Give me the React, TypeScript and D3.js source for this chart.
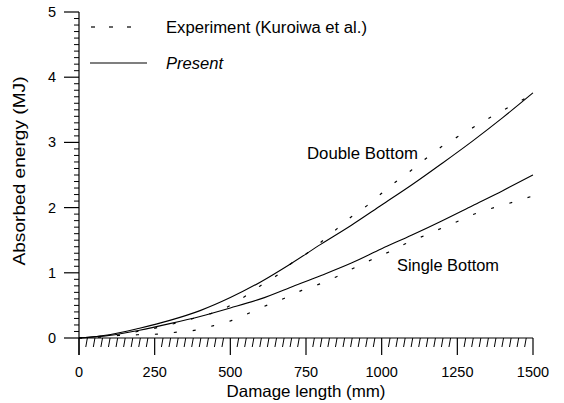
import React from "react";
import * as d3 from "d3";

const width = 564;
const height = 403;
const margin = { top: 12, right: 30, bottom: 65, left: 79 };

// damage length (mm) and absorbed energy (MJ)
const doublePresentX = [0, 100, 200, 300, 400, 500, 600, 700, 800, 900, 1000, 1100, 1200, 1300, 1400, 1500];
const doublePresentY = [0, 0.05, 0.15, 0.27, 0.42, 0.62, 0.86, 1.14, 1.44, 1.73, 2.04, 2.35, 2.68, 3.02, 3.38, 3.76];

const singlePresentX = [0, 100, 200, 300, 400, 500, 600, 700, 800, 900, 1000, 1100, 1200, 1300, 1400, 1500];
const singlePresentY = [0, 0.04, 0.12, 0.22, 0.33, 0.46, 0.6, 0.78, 0.96, 1.15, 1.37, 1.58, 1.8, 2.03, 2.26, 2.5];

const doubleExpX = [0, 130, 193, 260, 330, 400, 470, 549, 602, 651, 703, 760, 802, 851, 900, 954, 1000, 1048, 1100, 1151, 1200, 1256, 1310, 1361, 1420, 1476, 1500];
const doubleExpY = [0, 0.04, 0.1, 0.16, 0.24, 0.33, 0.43, 0.64, 0.81, 0.95, 1.15, 1.32, 1.48, 1.67, 1.86, 2.04, 2.22, 2.4, 2.58, 2.77, 2.94, 3.1, 3.25, 3.39, 3.54, 3.68, 3.74];

const singleExpX = [0, 133, 193, 259, 324, 385, 445, 505, 566, 620, 679, 736, 796, 851, 911, 966, 1024, 1081, 1141, 1196, 1257, 1311, 1372, 1432, 1500];
const singleExpY = [0, 0.04, 0.05, 0.06, 0.09, 0.12, 0.19, 0.27, 0.39, 0.5, 0.61, 0.73, 0.83, 0.94, 1.08, 1.2, 1.32, 1.45, 1.57, 1.68, 1.8, 1.91, 2.0, 2.08, 2.18];

const xTicks = [0, 250, 500, 750, 1000, 1250, 1500];
const yTicks = [0, 1, 2, 3, 4, 5];

const font = "'Liberation Sans', Arial, Helvetica, sans-serif";

const App = () => {
  const x = d3.scaleLinear().domain([0, 1500]).range([margin.left, width - margin.right - 1]);
  const y = d3.scaleLinear().domain([0, 5]).range([height - margin.bottom, margin.top]);

  const line = d3.line<[number, number]>()
    .x(d => x(d[0]))
    .y(d => y(d[1]))
    .curve(d3.curveMonotoneX);

  const zip = (xs: number[], ys: number[]) => xs.map((v, i) => [v, ys[i]] as [number, number]);

  const x0 = x(0);
  const y0 = y(0);
  const xMinor = d3.range(25, 1500, 25).filter(v => v % 250 !== 0);
  const yMinor = d3.range(1, 50).filter(v => v % 10 !== 0).map(v => v / 10);

  return (
    <svg width={width} height={height} style={{ position: "absolute", left: 0, top: 0, background: "white" }}>
      <rect width={width} height={height} fill="white" />

      {/* axes */}
      <g stroke="black" strokeWidth={1.2} fill="none">
        <line x1={x0} y1={y(5)} x2={x0} y2={y0 + 17} />
        <line x1={x0} y1={y0} x2={x(1500)} y2={y0} />
        {yTicks.map(t => (
          <line key={"yt" + t} x1={x0 - 15} y1={y(t)} x2={x0} y2={y(t)} />
        ))}
        {yMinor.map(t => (
          <line key={"ym" + t} x1={x0 - 5} y1={y(t)} x2={x0} y2={y(t)} strokeWidth={1} />
        ))}
        {xTicks.map(t => (
          <line key={"xt" + t} x1={x(t)} y1={y0} x2={x(t)} y2={y0 + 17} />
        ))}
        {xMinor.map(t => (
          <line key={"xm" + t} x1={x(t) + 0.8} y1={y0} x2={x(t) - 0.8} y2={y0 + 9} strokeWidth={1} />
        ))}
      </g>

      {/* tick labels */}
      <g fontFamily={font} fontSize={14.5} fill="black">
        {yTicks.map(t => (
          <text key={"yl" + t} x={x0 - 23} y={y(t)} dy="0.35em" textAnchor="end">{t}</text>
        ))}
        {xTicks.map(t => (
          <text key={"xl" + t} x={x(t)} y={372} dy="0.35em" textAnchor="middle">{t}</text>
        ))}
      </g>

      {/* axis titles */}
      <text x={306} y={391} dy="0.35em" textAnchor="middle" fontFamily={font} fontSize={16.5}
        textLength={159} lengthAdjust="spacingAndGlyphs">Damage length (mm)</text>
      <text transform={`translate(19, 171) rotate(-90)`} dy="0.35em" textAnchor="middle" fontFamily={font} fontSize={17}
        textLength={189} lengthAdjust="spacingAndGlyphs">Absorbed energy (MJ)</text>

      {/* curves */}
      <g fill="none" stroke="black">
        <path d={line(zip(doublePresentX, doublePresentY)) || ""} strokeWidth={1.1} />
        <path d={line(zip(singlePresentX, singlePresentY)) || ""} strokeWidth={1.1} />
        <path d={line(zip(doubleExpX, doubleExpY)) || ""} strokeWidth={1.2} strokeDasharray="3,16" />
        <path d={line(zip(singleExpX, singleExpY)) || ""} strokeWidth={1.2} strokeDasharray="3,16" />
      </g>

      {/* curve labels */}
      <text x={307} y={153} dy="0.35em" fontFamily={font} fontSize={16.5}
        textLength={111} lengthAdjust="spacingAndGlyphs">Double Bottom</text>
      <text x={397} y={265} dy="0.35em" fontFamily={font} fontSize={16.5}
        textLength={102} lengthAdjust="spacingAndGlyphs">Single Bottom</text>

      {/* legend */}
      <g stroke="black" strokeWidth={1.2}>
        <line x1={91} y1={27} x2={95} y2={27} />
        <line x1={109} y1={27} x2={113} y2={27} />
        <line x1={127} y1={27} x2={131} y2={27} />
        <line x1={90} y1={63} x2={147} y2={63} strokeWidth={1.1} />
      </g>
      <text x={166} y={27} dy="0.35em" fontFamily={font} fontSize={16}
        textLength={201} lengthAdjust="spacingAndGlyphs">Experiment (Kuroiwa et al.)</text>
      <text x={166} y={63} dy="0.35em" fontFamily={font} fontSize={16} fontStyle="italic"
        textLength={57} lengthAdjust="spacingAndGlyphs">Present</text>
    </svg>
  );
};

export default App;
